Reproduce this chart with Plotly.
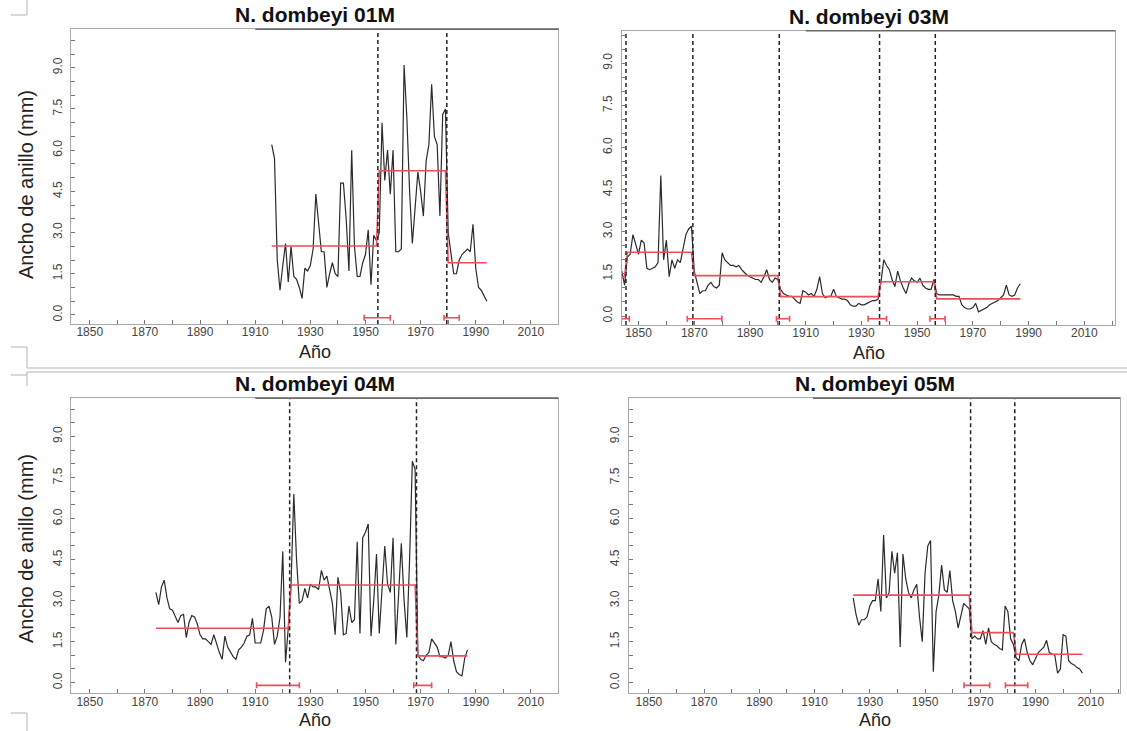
import plotly.graph_objects as go

W, H = 1127, 731

# ---------------- data ----------------
titles = ["N. dombeyi 01M", "N. dombeyi 03M", "N. dombeyi 04M", "N. dombeyi 05M"]

start_01M = 1916
width_01M = [6.2, 5.7, 2.0, 0.9, 1.8, 2.6, 1.2, 2.5, 1.4, 1.3,
             1.0, 0.6, 1.7, 1.6, 1.8, 2.4, 4.4, 3.2, 2.3, 2.3,
             1.0, 1.5, 1.9, 1.5, 1.4, 4.8, 4.8, 3.5, 1.6, 6.0,
             2.5, 1.4, 1.4, 1.9, 2.2, 3.1, 1.1, 2.9, 2.7, 3.0,
             7.0, 4.9, 6.0, 4.4, 6.0, 2.3, 2.3, 2.4, 9.1, 7.2,
             4.5, 2.6, 3.8, 5.2, 4.5, 3.6, 5.6, 6.2, 8.4, 6.5,
             6.2, 3.6, 7.3, 7.5, 3.0, 2.2, 1.5, 1.5, 2.0, 2.2,
             2.3, 2.4, 2.3, 3.3, 1.7, 1.0, 0.9, 0.7, 0.5]
regime_start_01M = [1916, 1955, 1980]
regime_mean_01M = [2.51, 5.25, 1.90]
ci_low_01M = [1949.5, 1978.5]
ci_high_01M = [1959.0, 1984.0]

start_03M = 1844
width_03M = [1.6, 1.1, 2.1, 2.2, 2.9, 2.5, 2.2, 2.7, 2.6, 1.7,
             1.65, 1.7, 1.75, 1.9, 5.0, 2.0, 2.7, 1.4, 2.0, 1.7,
             2.0, 1.9, 2.4, 2.9, 3.1, 3.2, 1.6, 1.2, 0.8, 0.9,
             0.9, 1.1, 1.2, 1.05, 1.0, 1.1, 2.25, 2.0, 1.9, 1.8,
             1.8, 1.75, 1.8, 1.65, 1.55, 1.45, 1.4, 1.35, 1.3, 1.3,
             1.2, 1.4, 1.65, 1.3, 1.2, 1.35, 1.3, 0.95, 0.8, 0.75,
             0.7, 0.7, 0.6, 0.5, 0.45, 0.9, 0.85, 0.75, 0.8, 0.7,
             0.95, 1.4, 0.8, 0.65, 0.7, 0.7, 0.95, 0.7, 0.65, 0.6,
             0.6, 0.55, 0.4, 0.35, 0.35, 0.45, 0.4, 0.4, 0.45, 0.5,
             0.55, 0.55, 0.6, 1.2, 2.0, 1.8, 1.65, 1.3, 1.05, 1.6,
             1.25, 1.0, 0.8, 1.15, 1.35, 1.25, 1.2, 1.35, 1.1, 1.0,
             0.95, 0.95, 1.3, 0.8, 0.75, 0.75, 0.75, 0.75, 0.75, 0.75,
             0.7, 0.7, 0.4, 0.3, 0.25, 0.25, 0.3, 0.45, 0.15, 0.2,
             0.25, 0.3, 0.4, 0.45, 0.5, 0.55, 0.65, 0.75, 1.1, 0.75,
             0.7, 0.75, 1.0, 1.15]
regime_start_03M = [1844, 1846, 1870, 1901, 1937, 1957]
regime_mean_03M = [1.4, 2.27, 1.44, 0.69, 1.22, 0.61]
ci_low_03M = [1843.8, 1867.5, 1899.5, 1932.4, 1954.6]
ci_high_03M = [1846.7, 1879.9, 1904.2, 1939.0, 1960.0]

start_04M = 1874
width_04M = [3.3, 2.85, 3.5, 3.75, 3.1, 2.7, 2.65, 2.4, 2.2, 2.45,
             2.5, 1.65, 2.2, 2.45, 2.4, 2.15, 1.75, 1.6, 1.6, 1.5,
             1.4, 1.75, 1.4, 1.1, 0.85, 1.7, 1.3, 1.15, 0.95, 0.85,
             1.2, 1.3, 1.45, 1.7, 1.75, 2.35, 1.45, 1.45, 1.45, 1.9,
             2.7, 2.8, 2.4, 1.4, 1.7, 2.4, 4.8, 0.75, 2.0, 3.6,
             6.9, 4.5, 2.9, 3.0, 3.45, 3.1, 3.6, 3.5, 3.5, 3.4,
             4.1, 3.75, 3.9, 3.4, 2.9, 1.75, 3.85, 3.3, 1.75, 1.8,
             2.8, 2.2, 2.3, 5.15, 1.8, 5.3, 5.5, 5.8, 1.7, 3.0,
             4.7, 1.8, 3.4, 5.0, 3.6, 3.3, 5.3, 1.4, 3.2, 5.1,
             3.0, 1.65, 4.5, 8.1, 7.8, 1.0, 0.85, 0.8, 1.0, 1.1,
             1.6, 1.45, 1.3, 0.95, 0.95, 0.9, 1.0, 1.5, 0.8, 0.4,
             0.3, 0.25, 0.9, 1.2]
regime_start_04M = [1874, 1923, 1969]
regime_mean_04M = [1.99, 3.57, 0.98]
ci_low_04M = [1910.5, 1967.5]
ci_high_04M = [1926.0, 1974.0]

start_05M = 1924
width_05M = [3.1, 2.5, 2.1, 2.3, 2.3, 2.4, 2.8, 3.0, 3.0, 3.8,
             2.6, 5.4, 3.1, 3.3, 4.8, 4.0, 4.75, 1.3, 4.7, 3.8,
             3.3, 3.1, 3.4, 3.6, 2.4, 1.5, 4.0, 5.0, 5.2, 0.4,
             2.6, 3.2, 4.3, 3.4, 3.3, 4.1, 3.0, 2.6, 2.0, 2.5,
             2.9, 2.8, 2.7, 1.6, 1.7, 1.6, 1.6, 1.9, 1.4, 2.0,
             1.5, 1.4, 1.35, 1.25, 1.2, 2.8, 2.6, 1.6, 1.4, 0.9,
             0.8, 1.4, 1.6, 1.1, 0.8, 0.65, 0.85, 1.1, 1.2, 1.3,
             1.55, 1.1, 1.05, 1.0, 0.35, 0.5, 1.75, 1.7, 0.8, 0.7,
             0.65, 0.55, 0.5, 0.35]
regime_start_05M = [1924, 1967, 1983]
regime_mean_05M = [3.2, 1.83, 1.04]
ci_low_05M = [1964.1, 1979.1]
ci_high_05M = [1973.4, 1987.2]

x_tick_vals = [1850, 1870, 1890, 1910, 1930, 1950, 1970, 1990, 2010]
y_tick_vals = [0.0, 1.5, 3.0, 4.5, 6.0, 7.5, 9.0]
x_title = "Año"
y_title = "Ancho de anillo (mm)"

series = [
    (start_01M, width_01M, regime_start_01M, regime_mean_01M, ci_low_01M, ci_high_01M),
    (start_03M, width_03M, regime_start_03M, regime_mean_03M, ci_low_03M, ci_high_03M),
    (start_04M, width_04M, regime_start_04M, regime_mean_04M, ci_low_04M, ci_high_04M),
    (start_05M, width_05M, regime_start_05M, regime_mean_05M, ci_low_05M, ci_high_05M),
]

# ---------------- layout (pixel geometry) ----------------
panels = [
    dict(x0=71.3, x1=558.2, y0=29.3, y1=324.0, xr=[1843.3, 2019.9], yr=[-0.33, 10.40], ytc=185, xtc=352),
    dict(x0=621.8, x1=1115.3, y0=30.7, y1=325.0, xr=[1844.0, 2021.1], yr=[-0.32, 10.16], ytc=None, xtc=353),
    dict(x0=71.3, x1=558.2, y0=398.3, y1=693.3, xr=[1843.3, 2019.9], yr=[-0.39, 10.40], ytc=549, xtc=720),
    dict(x0=629.0, x1=1120.0, y0=398.3, y1=693.3, xr=[1842.8, 2020.6], yr=[-0.39, 10.40], ytc=None, xtc=720),
]

RED = "#ec4e5c"
BLACK = "#2b2b2b"
FRAME = "#a8a8a8"
FONT = "Liberation Sans, Arial, sans-serif"


def px(xp):
    return xp / W


def py(yp):
    return 1 - yp / H


fig = go.Figure()
annotations = []
shapes = []

for i, (p, s, title) in enumerate(zip(panels, series, titles)):
    start, vals, rstart, rmean, cilo, cihi = s
    n = i + 1
    xa = "x" if n == 1 else f"x{n}"
    ya = "y" if n == 1 else f"y{n}"
    years = [start + k for k in range(len(vals))]

    # fitted regime means per year
    fitted = []
    for yr in years:
        lvl = rmean[0]
        for rs, rm in zip(rstart, rmean):
            if yr >= rs:
                lvl = rm
        fitted.append(lvl)

    # breakpoint positions (between last year of old regime and first of new)
    bps = [rs - 0.5 for rs in rstart[1:]]

    fig.add_trace(go.Scatter(x=years, y=vals, mode="lines",
                             line=dict(color=BLACK, width=1.2),
                             xaxis=xa, yaxis=ya, showlegend=False, hoverinfo="skip"))
    fig.add_trace(go.Scatter(x=years, y=fitted, mode="lines",
                             line=dict(color=RED, width=1.6),
                             xaxis=xa, yaxis=ya, showlegend=False, hoverinfo="skip"))
    dx, dy = [], []
    for b in bps:
        dx += [b, b, None]
        dy += [p["yr"][0], p["yr"][1], None]
    fig.add_trace(go.Scatter(x=dx, y=dy, mode="lines",
                             line=dict(color="#222222", width=1.5, dash="4px,3px"),
                             xaxis=xa, yaxis=ya, showlegend=False, hoverinfo="skip"))
    fig.add_trace(go.Scatter(x=bps, y=[-0.1] * len(bps), mode="markers",
                             marker=dict(size=1, color=RED),
                             error_x=dict(type="data", symmetric=False,
                                          array=[h - b for h, b in zip(cihi, bps)],
                                          arrayminus=[b - l for b, l in zip(bps, cilo)],
                                          color=RED, thickness=1.6, width=3),
                             xaxis=xa, yaxis=ya, showlegend=False, hoverinfo="skip"))

    axis_common = dict(showline=True, mirror=True, linecolor=FRAME, linewidth=1,
                       showgrid=False, zeroline=False, ticks="inside", ticklen=4,
                       tickcolor="#777777", tickwidth=1,
                       tickfont=dict(family=FONT, size=12, color="#444444"))
    fig.layout[("xaxis" if n == 1 else f"xaxis{n}")] = dict(
        axis_common, domain=[px(p["x0"]), px(p["x1"])], range=p["xr"],
        anchor=ya, tickmode="array", tickvals=x_tick_vals, ticklabelstandoff=-3,
        minor=dict(dtick=10, tick0=1850, ticks="inside", ticklen=4, tickcolor="#777777"))
    fig.layout[("yaxis" if n == 1 else f"yaxis{n}")] = dict(
        axis_common, domain=[py(p["y1"]), py(p["y0"])], range=p["yr"],
        anchor=xa, tickmode="array", tickvals=y_tick_vals, tickformat=".1f",
        tickangle=-90, ticklabelstandoff=4,
        minor=dict(dtick=0.5, tick0=0, ticks="inside", ticklen=4, tickcolor="#777777"))

    cx = (p["x0"] + p["x1"]) / 2
    annotations.append(dict(text=f"<b>{title}</b>", x=px(cx), y=py(p["y0"] - 1),
                            xref="paper", yref="paper", xanchor="center", yanchor="bottom",
                            showarrow=False, font=dict(family=FONT, size=21, color="#111111")))
    annotations.append(dict(text=x_title, x=px(cx), y=py(p["xtc"]),
                            xref="paper", yref="paper", xanchor="center", yanchor="middle",
                            showarrow=False, font=dict(family=FONT, size=18, color="#222222")))
    if p["ytc"] is not None:
        annotations.append(dict(text=y_title, x=px(26), y=py(p["ytc"]),
                                xref="paper", yref="paper", xanchor="center", yanchor="middle",
                                textangle=-90, showarrow=False,
                                font=dict(family=FONT, size=20, color="#222222")))
    # darker top edge segment seen on each frame
    shapes.append(dict(type="line", xref="paper", yref="paper",
                       x0=px(p["x0"] + 184), x1=px(p["x1"]), y0=py(p["y0"]), y1=py(p["y0"]),
                       line=dict(color="#6a6a6a", width=1.5)))

# page decorations (separator and crop marks)
deco = [
    ((27, 368), (1127, 368)), ((27, 372), (1127, 372)),
    ((11, 15), (27, 15)), ((27, 0), (27, 15)),
    ((11, 347), (27, 347)), ((27, 347), (27, 368)),
    ((11, 375), (27, 375)), ((27, 372), (27, 386)),
    ((11, 713), (27, 713)), ((27, 713), (27, 731)),
]
for (ax, ay), (bx, by) in deco:
    shapes.append(dict(type="line", xref="paper", yref="paper",
                       x0=px(ax), y0=py(ay), x1=px(bx), y1=py(by),
                       line=dict(color="#b5b5b5", width=1)))

fig.update_layout(width=W, height=H, margin=dict(l=0, r=0, t=0, b=0),
                  paper_bgcolor="white", plot_bgcolor="white",
                  annotations=annotations, shapes=shapes, showlegend=False,
                  font=dict(family=FONT))

fig.write_html("out.html")
